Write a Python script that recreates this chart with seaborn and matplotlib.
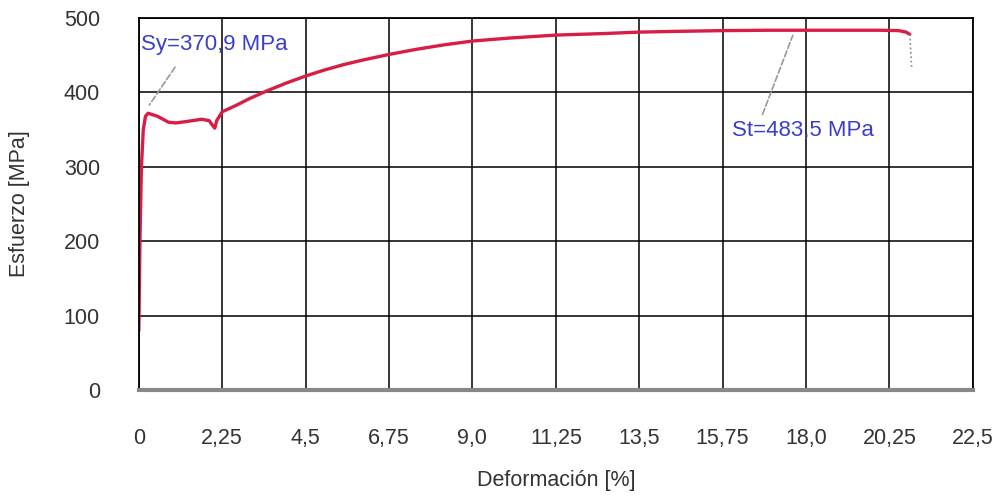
import matplotlib
matplotlib.use('Agg')
import matplotlib.pyplot as plt
import seaborn as sns
import pandas as pd

# curva esfuerzo-deformacion
deformacion = [0.0, 0.03, 0.07, 0.12, 0.18, 0.25, 0.5, 0.8, 1.0, 1.3, 1.7, 1.9, 2.0, 2.05, 2.1,
               2.25, 2.6, 3.0, 3.5, 4.0, 4.5, 5.0, 5.5, 6.0, 6.75, 7.5, 8.25, 9.0, 10.0, 11.25,
               12.5, 13.5, 14.5, 15.75, 17.0, 18.0, 19.0, 20.0, 20.5, 20.7, 20.8]
esfuerzo = [80, 200, 300, 350, 368, 372, 368, 360, 359, 361, 364, 362, 355, 352, 362,
            374, 382, 392, 403, 413, 422, 430, 437, 443, 451, 458, 464, 469, 473, 477,
            479, 481, 482, 483, 483.5, 483.5, 483.5, 483.5, 483, 481, 478]
cola_x = [20.8, 20.85]
cola_y = [478, 433]

xticks = [0, 2.25, 4.5, 6.75, 9.0, 11.25, 13.5, 15.75, 18.0, 20.25, 22.5]
xlabels = ['0', '2,25', '4,5', '6,75', '9,0', '11,25', '13,5', '15,75', '18,0', '20,25', '22,5']
yticks = [0, 100, 200, 300, 400, 500]

df = pd.DataFrame({'Deformación': deformacion, 'Esfuerzo': esfuerzo})

sns.set_style('white')
plt.rcParams['font.family'] = ['Liberation Sans', 'DejaVu Sans']

fig = plt.figure(figsize=(10.06, 4.99), dpi=100)
ax = fig.add_axes([0.138, 0.218, 0.829, 0.746])

sns.lineplot(data=df, x='Deformación', y='Esfuerzo', ax=ax, color='#d81e44', lw=2.4,
             sort=False, estimator=None)
ax.plot(cola_x, cola_y, color='#888888', lw=1.2, ls=':')

ax.set_xlim(0, 22.5)
ax.set_ylim(0, 500)
ax.set_xticks(xticks)
ax.set_xticklabels(xlabels)
ax.set_yticks(yticks)
ax.grid(True, color='black', lw=1.1)
for s in ax.spines.values():
    s.set_color('black')
    s.set_linewidth(1.3)
ax.spines['bottom'].set_color('#888888')
ax.spines['bottom'].set_linewidth(3)
ax.tick_params(axis='both', length=0, labelsize=15.5, colors='#333333')
ax.tick_params(axis='x', pad=27)
ax.tick_params(axis='y', pad=28)
ax.set_xlabel('Deformación [%]', fontsize=15.5, color='#333333', labelpad=15)
ax.set_ylabel('Esfuerzo [MPa]', fontsize=15.5, color='#333333', labelpad=24)

ax.annotate('', xy=(0.24, 380), xytext=(1.02, 437),
            arrowprops=dict(arrowstyle='-', ls='--', color='#999999', lw=1.2))
ax.text(0.05, 464, 'Sy=370,9 MPa', color='#3a3fc8', fontsize=16, va='center')
ax.annotate('', xy=(17.67, 480), xytext=(16.8, 367),
            arrowprops=dict(arrowstyle='-', ls='--', color='#999999', lw=1.2))
ax.text(16.0, 349, 'St=483,5 MPa', color='#3a3fc8', fontsize=16, va='center')

fig.savefig('out.png', dpi=100)
